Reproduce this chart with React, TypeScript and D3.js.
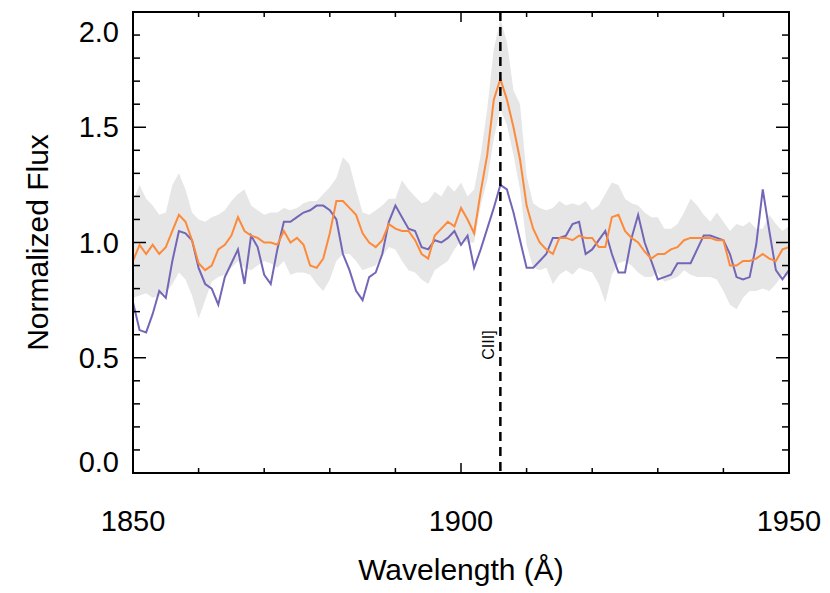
import React from "react";
import * as d3 from "d3";

const width = 830;
const height = 593;
const margin = { top: 12, right: 41, bottom: 120, left: 133 };

// wavelength grid, 1 Å steps
const wavelengths = d3.range(1850, 1951, 1);

const orangeFlux = [
  0.92, 0.99, 0.95, 0.99, 0.95, 0.98, 1.05, 1.12, 1.09, 1.01,
  0.91, 0.88, 0.9, 0.97, 0.99, 1.03, 1.11, 1.05, 1.03, 1.02,
  1.0, 1.0, 0.99, 1.05, 1.0, 1.02, 0.99, 0.9, 0.89, 0.93,
  1.04, 1.18, 1.18, 1.15, 1.12, 1.04, 1.0, 0.98, 1.01, 1.08,
  1.06, 1.05, 1.05, 1.01, 0.95, 0.93, 1.03, 1.06, 1.09, 1.07,
  1.15, 1.1, 1.04, 1.22, 1.38, 1.62, 1.71, 1.62, 1.5, 1.36,
  1.16, 1.06, 1.0, 0.97, 0.95, 1.02, 1.02, 1.01, 1.03, 1.02,
  1.02, 0.98, 0.98, 1.11, 1.12, 1.05, 1.02, 1.0, 0.96, 0.93,
  0.95, 0.95, 0.97, 0.98, 1.01, 1.02, 1.02, 1.02, 1.02, 1.01,
  1.01, 0.9, 0.9, 0.92, 0.92, 0.93, 0.95, 0.93, 0.92, 0.97,
  0.98,
];

const purpleFlux = [
  0.74, 0.62, 0.61, 0.69, 0.79, 0.76, 0.92, 1.05, 1.04, 1.01,
  0.89, 0.82, 0.8, 0.73, 0.85, 0.91, 0.97, 0.82, 1.03, 0.98,
  0.86, 0.82, 0.97, 1.09, 1.09, 1.11, 1.13, 1.14, 1.16, 1.16,
  1.14, 1.1, 0.95, 0.88, 0.79, 0.75, 0.85, 0.87, 0.95, 1.09,
  1.16, 1.11, 1.06, 1.05, 0.98, 0.97, 1.01, 1.0, 1.02, 1.05,
  0.99, 1.03, 0.89, 0.97, 1.06, 1.15, 1.25, 1.23, 1.13, 1.01,
  0.89, 0.89, 0.92, 0.95, 1.02, 1.02, 1.03, 1.08, 1.09, 0.95,
  0.97, 1.01, 1.05, 0.95, 0.87, 0.87, 1.02, 1.12, 1.0, 0.92,
  0.84, 0.85, 0.86, 0.91, 0.91, 0.91, 0.97, 1.03, 1.03, 1.02,
  1.01, 0.95, 0.85, 0.84, 0.85, 0.99, 1.23, 1.05, 0.88, 0.84,
  0.88,
];

const bandUpper = [
  1.18, 1.25, 1.19, 1.16, 1.12, 1.13, 1.25, 1.3, 1.23, 1.13,
  1.1, 1.09, 1.11, 1.12, 1.14, 1.18, 1.21, 1.23, 1.16, 1.14,
  1.12, 1.13, 1.13, 1.15, 1.14, 1.15, 1.17, 1.18, 1.18, 1.21,
  1.24, 1.28, 1.37, 1.34, 1.23, 1.13, 1.12, 1.14, 1.16, 1.19,
  1.19, 1.27, 1.23, 1.2, 1.17, 1.18, 1.22, 1.2, 1.25, 1.22,
  1.26, 1.2, 1.23, 1.38, 1.58, 1.84, 1.97, 1.87, 1.66, 1.6,
  1.29, 1.17, 1.15, 1.14, 1.15, 1.18, 1.16, 1.17, 1.16, 1.18,
  1.14, 1.16, 1.21, 1.26, 1.25, 1.19, 1.17, 1.16, 1.13, 1.11,
  1.11, 1.06, 1.06, 1.08, 1.13, 1.19, 1.16, 1.12, 1.09, 1.13,
  1.09, 1.05, 1.08, 1.07, 1.09, 1.06, 1.06, 1.12, 1.08, 1.05,
  1.07,
];

const bandLower = [
  0.76, 0.77, 0.78, 0.76, 0.77, 0.78, 0.82, 0.87, 0.84, 0.77,
  0.67, 0.75, 0.83, 0.85, 0.86, 0.89, 0.92, 0.89, 0.88, 0.9,
  0.92, 0.91, 0.89, 0.92, 0.86, 0.87, 0.87, 0.86, 0.82, 0.79,
  0.84, 0.92, 0.95, 0.95, 0.92, 0.88, 0.89, 0.9, 0.94, 0.98,
  0.97, 0.92, 0.88, 0.87, 0.84, 0.82, 0.88, 0.9, 0.92, 0.97,
  1.01, 1.0, 1.0, 1.16, 1.27, 1.45, 1.58, 1.51, 1.38, 1.23,
  0.99, 0.89, 0.88, 0.89, 0.82, 0.86, 0.88, 0.86, 0.89, 0.88,
  0.87, 0.82, 0.74, 0.86, 0.91, 0.92, 0.9, 0.87, 0.85, 0.85,
  0.87, 0.83, 0.84, 0.85, 0.88, 0.86, 0.85, 0.85, 0.85, 0.84,
  0.79, 0.73, 0.71, 0.76, 0.79, 0.79, 0.8, 0.79, 0.82, 0.86,
  0.85,
];

const xMajorTicks = [1850, 1900, 1950];
const xMinorTicks = d3.range(1850, 1951, 10);
const yMajorTicks = [0.0, 0.5, 1.0, 1.5, 2.0];
const yMinorTicks = d3.range(0, 20.5, 1).map((v) => v / 10);

const lineLabel = "CIII]";
const lineCenter = 1906;

const font = "'Liberation Sans', Arial, Helvetica, sans-serif";

export default function App() {
  const innerWidth = width - margin.left - margin.right;
  const innerHeight = height - margin.top - margin.bottom;

  const xScale = d3.scaleLinear().domain([1850, 1950]).range([0, innerWidth]);
  const yScale = d3.scaleLinear().domain([0, 2.0]).range([innerHeight, 0]);

  const rows = wavelengths.map((w, i) => ({
    w,
    orange: orangeFlux[i],
    purple: purpleFlux[i],
    lo: bandLower[i],
    hi: bandUpper[i],
  }));

  const band = d3
    .area<any>()
    .x((d) => xScale(d.w))
    .y0((d) => yScale(d.lo))
    .y1((d) => yScale(d.hi));

  const lineOf = (key: string) =>
    d3
      .line<any>()
      .x((d) => xScale(d.w))
      .y((d) => yScale(d[key]));

  const lx = xScale(lineCenter);

  return (
    <svg
      width={width}
      height={height}
      style={{ position: "absolute", left: 0, top: 0, background: "#fff" }}
      fontFamily={font}
    >
      <defs>
        <clipPath id="plotClip">
          <rect x={0} y={0} width={innerWidth} height={innerHeight} />
        </clipPath>
      </defs>
      <g transform={`translate(${margin.left},${margin.top})`}>
        <g clipPath="url(#plotClip)">
          <path d={band(rows) || ""} fill="#e6e6e6" stroke="none" />
          <path
            d={lineOf("purple")(rows) || ""}
            fill="none"
            stroke="#7466b6"
            strokeWidth={2}
          />
          <path
            d={lineOf("orange")(rows) || ""}
            fill="none"
            stroke="#fd8a3a"
            strokeWidth={2}
          />
        </g>

        {/* emission line marker */}
        <line
          x1={lx}
          x2={lx}
          y1={0}
          y2={innerHeight}
          stroke="#000"
          strokeWidth={2.5}
          strokeDasharray="9,6"
        />
        <text
          transform={`translate(${lx - 6},${yScale(0.5) + 2}) rotate(-90)`}
          fontSize={16}
          textAnchor="start"
        >
          {lineLabel}
        </text>

        {/* frame */}
        <rect
          x={0}
          y={0}
          width={innerWidth}
          height={innerHeight}
          fill="none"
          stroke="#000"
          strokeWidth={2}
        />

        {/* x ticks, bottom and top */}
        {xMinorTicks.map((t) => {
          const len = xMajorTicks.includes(t) ? 10 : 5;
          return (
            <g key={`xt${t}`} transform={`translate(${xScale(t)},0)`}>
              <line y1={innerHeight} y2={innerHeight - len} stroke="#000" strokeWidth={1.5} />
              <line y1={0} y2={len} stroke="#000" strokeWidth={1.5} />
            </g>
          );
        })}
        {xMajorTicks.map((t) => (
          <text
            key={`xl${t}`}
            x={xScale(t)}
            y={innerHeight + 58}
            textAnchor="middle"
            fontSize={29}
          >
            {t}
          </text>
        ))}

        {/* y ticks, left and right */}
        {yMinorTicks.map((t) => {
          const major = yMajorTicks.some((m) => Math.abs(m - t) < 1e-6);
          const len = major ? 13 : 7;
          return (
            <g key={`yt${t}`} transform={`translate(0,${yScale(t)})`}>
              <line x1={0} x2={len} stroke="#000" strokeWidth={1.5} />
              <line x1={innerWidth} x2={innerWidth - len} stroke="#000" strokeWidth={1.5} />
            </g>
          );
        })}
        {yMajorTicks.map((t) => {
          const yy = Math.min(Math.max(yScale(t), 20), innerHeight - 11);
          return (
            <text
              key={`yl${t}`}
              x={-14}
              y={yy}
              dy="0.35em"
              textAnchor="end"
              fontSize={29}
            >
              {t.toFixed(1)}
            </text>
          );
        })}

        <text
          x={innerWidth / 2}
          y={innerHeight + 107}
          textAnchor="middle"
          fontSize={30}
        >
          Wavelength (Å)
        </text>
        <text
          transform={`translate(${-margin.left + 48},${innerHeight / 2}) rotate(-90)`}
          textAnchor="middle"
          fontSize={30}
        >
          Normalized Flux
        </text>
      </g>
    </svg>
  );
}
